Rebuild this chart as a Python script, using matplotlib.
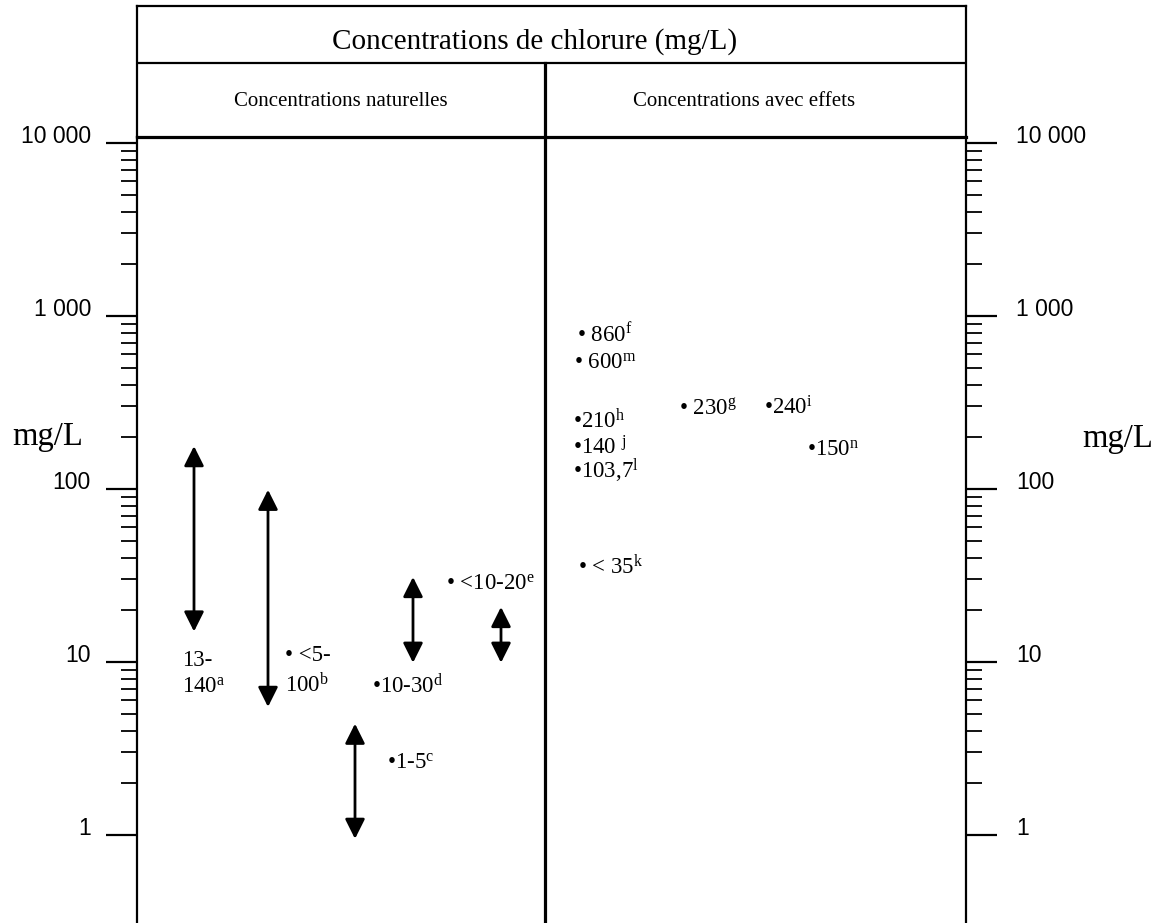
import numpy as np
import matplotlib as mpl
import matplotlib.pyplot as plt
from matplotlib import transforms
from matplotlib.patches import ArrowStyle
from matplotlib.ticker import FixedLocator, FixedFormatter

# --- data ---
tick_values = [1, 10, 100, 1000, 10000]
tick_labels = ['1', '10', '100', '1 000', '10 000']

# natural concentrations : ranges drawn as double arrows
nat_low = [15, 5.5, 0.95, 9.9, 9.9]
nat_high = [177, 99, 4.4, 31, 20.8]
# labels of the natural concentrations and where their bullet sits (mg/L)
nat_labels = ['13-\n140$^{\\mathrm{a}}$', '\u2022 <5-\n100$^{\\mathrm{b}}$',
              '\u20221-5$^{\\mathrm{c}}$', '\u202210-30$^{\\mathrm{d}}$',
              '\u2022 <10-20$^{\\mathrm{e}}$']
nat_points = [10.8, 10.8, 2.65, 7.27, 28.6]

# concentrations with effects
eff_labels = ['\u2022 860$^{\\mathrm{f}}$', '\u2022 600$^{\\mathrm{m}}$',
              '\u2022 230$^{\\mathrm{g}}$', '\u2022240$^{\\mathrm{i}}$',
              '\u2022210$^{\\mathrm{h}}$', '\u2022140 $^{\\mathrm{j}}$',
              '\u2022150$^{\\mathrm{n}}$', '\u2022103,7$^{\\mathrm{l}}$',
              '\u2022 < 35$^{\\mathrm{k}}$']
eff_points = [776, 542, 294, 295, 247, 173, 170, 126, 35.4]

# --- layout (pixels of the 1159x923 picture) ---
W, H = 1159, 923
x0, x1 = 137, 966
def fx(px):
    return (px - x0) / (x1 - x0)

nat_arrow_x = [fx(p) for p in [194, 268, 355, 413, 501]]
nat_text_x = [fx(p) for p in [182, 285, 387, 372, 446]]
eff_text_x = [fx(p) for p in [577, 574, 679, 764, 573, 573, 807, 573, 578]]
divider_x = fx(545)
line_pitch = 29  # px between two lines of a label

serif = 'Liberation Serif'
plt.rcParams['font.family'] = serif
plt.rcParams['mathtext.fontset'] = 'custom'
plt.rcParams['mathtext.rm'] = serif
plt.rcParams['mathtext.it'] = serif + ':italic'
plt.rcParams['mathtext.bf'] = serif + ':bold'

fig = plt.figure(figsize=(W / 100, H / 100), dpi=100)

# main log panel
ax = fig.add_axes([x0 / W, 0, (x1 - x0) / W, (H - 137) / H])
ax.set_yscale('log')
ax.set_ylim(10 ** ((835 - 923) / 173), 10 ** ((835 - 137) / 173))
ax.set_xlim(0, 1)
ax.spines['bottom'].set_visible(False)
ax.spines['top'].set_linewidth(2.3)
ax.spines['left'].set_linewidth(1.6)
ax.spines['right'].set_linewidth(1.6)
ax.set_xticks([])

minor = [k * 10 ** e for e in range(4) for k in range(2, 10)]
ax.yaxis.set_major_locator(FixedLocator(tick_values))
ax.yaxis.set_major_formatter(FixedFormatter(tick_labels))
ax.yaxis.set_minor_locator(FixedLocator(minor))
ax.yaxis.set_minor_formatter(FixedFormatter([]))
ax.yaxis.set_ticks_position('both')
ax.tick_params(axis='y', which='both', direction='out', labelleft=True,
               labelright=True, color='k')
ax.tick_params(axis='y', which='major', length=22, width=1.6, pad=14,
               labelsize=16.5)
ax.tick_params(axis='y', which='minor', length=11.5, width=1.3)
nudge = transforms.ScaledTranslation(4 / 100, 0, fig.dpi_scale_trans)
for t in ax.yaxis.get_major_ticks():
    for lab in (t.label1, t.label2):
        lab.set_fontfamily('Liberation Sans')
        lab.set_verticalalignment('baseline')
    t.label1.set_transform(t.label1.get_transform() + nudge)

ax.axvline(divider_x, color='k', lw=2.3)

style = ArrowStyle('<|-|>', head_length=0.8, head_width=0.4)
for x, lo, hi in zip(nat_arrow_x, nat_low, nat_high):
    ax.annotate('', xy=(x, hi), xytext=(x, lo),
                arrowprops=dict(arrowstyle=style, mutation_scale=15, lw=2,
                                color='k', shrinkA=0, shrinkB=0))

# bullet centre sits ~7 px above the baseline of the first line
def label_shift(s):
    extra = s.count('\n') * line_pitch
    return transforms.ScaledTranslation(0, -(7 + extra) / 100, fig.dpi_scale_trans)

for x, y, s in zip(nat_text_x, nat_points, nat_labels):
    ax.text(x, y, s, ha='left', va='baseline', fontsize=16.5,
            linespacing=1.35, transform=ax.transData + label_shift(s))
for x, y, s in zip(eff_text_x, eff_points, eff_labels):
    ax.text(x, y, s, ha='left', va='baseline', fontsize=16.5,
            transform=ax.transData + label_shift(s))

fig.text(12.7 / W, 1 - 445 / H, 'mg/L', fontsize=23.5, ha='left', va='baseline')
fig.text(1082 / W, 1 - 447 / H, 'mg/L', fontsize=23.5, ha='left', va='baseline')

# header table
hd = fig.add_axes([x0 / W, 1 - 137 / H, (x1 - x0) / W, (137 - 6) / H])
hd.patch.set_visible(False)
hd.set_zorder(ax.get_zorder() - 1)
hd.set_xlim(0, 1)
hd.set_ylim(0, 1)
hd.set_xticks([])
hd.set_yticks([])
hd.spines['bottom'].set_visible(False)
for side in ('top', 'left', 'right'):
    hd.spines[side].set_linewidth(1.6)
row = (137 - 63) / 131
hd.axhline(row, color='k', lw=1.6)
hd.axvline(divider_x, ymax=row, color='k', lw=2.3)
hd.text(fx(535), (137 - 42) / 131, 'Concentrations de chlorure (mg/L)',
        ha='center', va='center', fontsize=21)
hd.text(fx(341), (137 - 101) / 131, 'Concentrations naturelles',
        ha='center', va='center', fontsize=15)
hd.text(fx(744), (137 - 101) / 131, 'Concentrations avec effets',
        ha='center', va='center', fontsize=15)

fig.savefig('out.png', dpi=100)
